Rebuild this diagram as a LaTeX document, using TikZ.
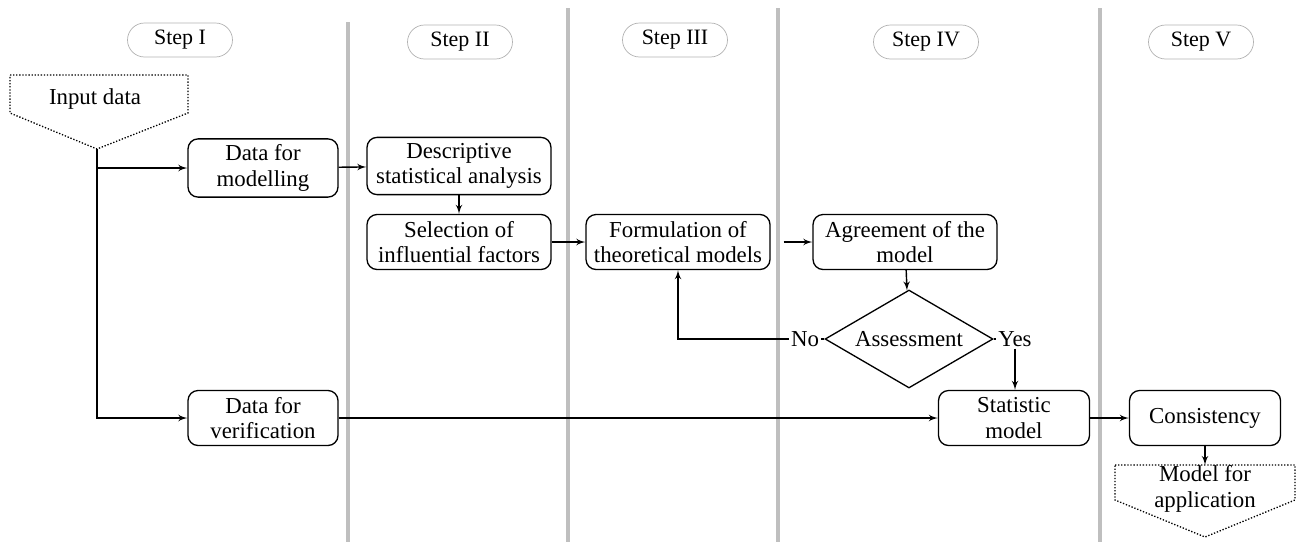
\documentclass[tikz,border=0pt]{standalone}
\usepackage{fontspec}
\setmainfont{Liberation Serif}
\usepackage{tikz}
\usetikzlibrary{calc}
\usetikzlibrary{arrows}
\usetikzlibrary{shapes.geometric}
\tikzset{>=latex'}
\tikzset{
	proc/.style={draw,rounded corners=2mm,minimum height=11mm,align=center,line width=0.75pt},
	stepbox/.style={draw=black!30,rounded corners=3.4mm,minimum width=21mm,minimum height=6.8mm,font=\fontsize{12.5}{14}\selectfont},
	lane/.style={line width=2.8pt,black!25},
	flow/.style={->,line width=0.8pt},
	term/.style={draw,densely dotted,line width=0.75pt}
}

\begin{document}
\begin{tikzpicture}[x=0.02cm,y=-0.02cm,font=\fontsize{13}{14.5}\selectfont]
	\useasboundingbox (0,0) rectangle (1298,542);
	% lanes
	\draw[lane] (348,22) -- (348,542);
	\draw[lane] (568,8) -- (568,542);
	\draw[lane] (778,8) -- (778,542);
	\draw[lane] (1100,8) -- (1100,542);
	% steps
	\node[stepbox] (step1) at (180,40) {Step I};
	\node[stepbox] (step2) at (460,42) {Step II};
	\node[stepbox] (step3) at (675,40) {Step III};
	\node[stepbox] (step4) at (926,42) {Step IV};
	\node[stepbox] (step5) at (1201,42) {Step V};
	% input and output
	\node (input) at (95,99) {Input data};
	\draw[term] (10,75) -- (188,75) -- (188,113) -- (97,149) -- (10,113) -- cycle;
	\coordinate (split) at (97,149);
	\node[align=center] (output) at (1205,489) {Model for\\application};
	\draw[term] (1115,465) -- (1295,465) -- (1295,500) -- (1205,537) -- (1115,500) -- cycle;
	\coordinate (outtop) at (1205,465);
	% boxes
	\node[proc,minimum width=30mm] (modelling) at (263,168) {Data for\\modelling};
	\node[proc,minimum width=30mm] (verif) at (263,418) {Data for\\verification};
	\node[proc,minimum width=36.8mm] (descr) at (459,166) {Descriptive\\statistical analysis};
	\node[proc,minimum width=36.8mm] (select) at (459,242) {Selection of\\influential factors};
	\node[proc,minimum width=36.8mm] (formul) at (678,242) {Formulation of\\theoretical models};
	\node[proc,minimum width=36.8mm] (agree) at (905,242) {Agreement of the\\model};
	\node[draw,diamond,shape aspect=1.7,line width=0.75pt,inner sep=0pt,minimum width=33.6mm,minimum height=19.6mm] (assess) at (909,339) {Assessment};
	\node[inner sep=1pt] (no) at (805,339) {No};
	\node[inner sep=1pt] (yes) at (1015,339) {Yes};
	\node[proc,minimum width=30.2mm] (stat) at (1014,418) {Statistic\\model};
	\node[proc,minimum width=30.2mm] (consist) at (1205,418) {Consistency};
	% connectors
	\draw[flow] (split) |- (modelling);
	\draw[flow] (split) |- (verif);
	\draw[flow] (modelling) -- (descr);
	\draw[flow] (descr) -- (select);
	\draw[flow] (select) -- (formul);
	\draw[flow,shorten <=2.6mm] (formul) -- (agree);
	\draw[flow] (agree) -- (assess);
	\draw[line width=0.75pt] (assess) -- (no);
	\draw[line width=0.75pt] (assess) -- (yes);
	\draw[flow] (no.west) -| (formul.south);
	\draw[flow] (yes.south) -- (yes.south |- stat.north);
	\draw[flow] (verif) -- (stat);
	\draw[flow] (stat) -- (consist);
	\draw[flow] (consist) -- (outtop);
\end{tikzpicture}
\end{document}
